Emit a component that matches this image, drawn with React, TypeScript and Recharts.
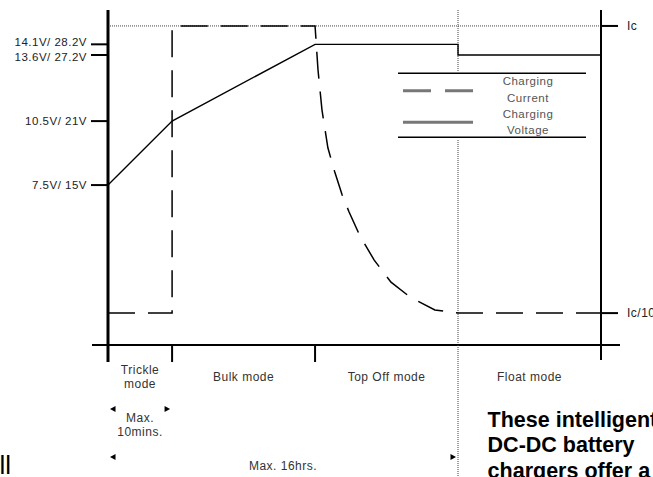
import React from 'react';
import { LineChart, Line, XAxis, YAxis, ReferenceLine, Legend } from 'recharts';

const FONT = '"Liberation Sans", Arial, Helvetica, sans-serif';

// x: schematic time units (0 = start of charge, 100 = right edge of the diagram)
const phaseEdges = [0, 13, 42, 71, 100];
const phaseLabels = [["Trickle", "mode"], ["Bulk mode"], ["Top Off mode"], ["Float mode"]];

// Charging voltage (12V system values)
const voltTime = [0, 13, 42, 71, 71, 100];
const voltValues = [7.5, 10.5, 14.1, 14.1, 13.6, 13.6];

// Charging current as fraction of Ic
const currTime = [0, 13, 13, 42, 42.6, 43.4, 44.6, 46.0, 47.5, 48.9, 51.1, 54.0, 57.4, 61.3, 66.3, 71, 100];
const currValues = [0.1, 0.1, 1, 1, 0.862, 0.737, 0.618, 0.542, 0.47, 0.417, 0.342, 0.266, 0.197, 0.15, 0.11, 0.1, 0.1];

const voltTicks = [7.5, 10.5, 13.6, 14.1];
const voltTickLabels = ["7.5V/ 15V", "10.5V/ 21V", "13.6V/ 27.2V", "14.1V/ 28.2V"];
const currTicks = [0.1, 1];
const currTickLabels = ["Ic/10", "Ic"];

const spanStarts = [0, 0];
const spanEnds = [13, 71];
const spanTexts = [["Max.", "10mins."], ["Max. 16hrs."]];

const seriesNames = ["Charging Current", "Charging Voltage"];
const seriesDash = ["27 13", ""];

const noteLines = ["These intelligent", "DC-DC battery", "chargers offer a"];
const cutText = "ll";

const voltData = voltTime.map((t, i) => ({ t, v: voltValues[i] }));
const currData = currTime.map((t, i) => ({ t, c: currValues[i] }));

const phaseMids = phaseLabels.map((_, i) => (phaseEdges[i] + phaseEdges[i + 1]) / 2);
const spanMids = spanTexts.map((_, i) => (spanStarts[i] + spanEnds[i]) / 2);
const bottomTicks = Array.from(new Set([...phaseEdges, ...phaseMids, ...spanMids])).sort((a, b) => a - b);
const floatEdge = phaseEdges[3];

const eq = (a: number, b: number) => Math.abs(a - b) < 1e-6;

const LABEL = { fontSize: 12, fill: '#333', fontFamily: FONT, letterSpacing: 0.5 };

function arrow(key: string, ax: number, ay: number, dir: number) {
  const pts = dir < 0
    ? `${ax - 3},${ay} ${ax + 2.5},${ay - 3} ${ax + 2.5},${ay + 3}`
    : `${ax + 3},${ay} ${ax - 2.5},${ay - 3} ${ax - 2.5},${ay + 3}`;
  return <polygon key={key} points={pts} fill="#000" />;
}

// left labels: the two close top labels are pushed apart a little so they do not collide
function VoltTick(props: any) {
  const { x, y, payload, index } = props;
  const i = voltTicks.indexOf(payload.value);
  let nudge = 0;
  if (i === voltTicks.length - 1) nudge = -2.2;
  if (i === voltTicks.length - 2) nudge = 2.2;
  return (
    <text x={x} y={y + nudge} dy="0.355em" textAnchor="end" {...LABEL} fontSize={11.5} fill="#222" key={index}>
      {voltTickLabels[i] ?? ''}
    </text>
  );
}

function BottomTick(props: any) {
  const { x, y, payload } = props;
  const v = payload.value;
  const els: any[] = [];
  const txt = { ...LABEL, textAnchor: 'middle' as const };
  const first = phaseEdges[0];
  const last = phaseEdges[phaseEdges.length - 1];
  if (eq(v, first)) {
    els.push(<line key="la" x1={x} x2={x} y1={y} y2={y + 17} stroke="#000" strokeWidth={3} />);
    els.push(<line key="lx" x1={x - 16} x2={x} y1={y} y2={y} stroke="#000" strokeWidth={2} />);
  } else if (eq(v, last)) {
    els.push(<line key="ra" x1={x} x2={x} y1={y} y2={y + 15} stroke="#000" strokeWidth={2} />);
    els.push(<line key="rx" x1={x} x2={x + 19} y1={y} y2={y} stroke="#000" strokeWidth={2} />);
  } else if (phaseEdges.some((e) => eq(e, v))) {
    if (eq(v, floatEdge)) {
      els.push(<line key="dl" x1={x} x2={x} y1={y} y2={y + 132} stroke="#444" strokeWidth={1} strokeDasharray="1 1" />);
    } else {
      els.push(<line key="tk" x1={x} x2={x} y1={y} y2={y + 17} stroke="#000" strokeWidth={2} />);
    }
  }
  phaseMids.forEach((m, i) => {
    if (!eq(m, v)) return;
    const lines = phaseLabels[i];
    const base = 36 - (lines.length - 1) * 7;
    lines.forEach((l, j) => els.push(<text key={`p${i}${j}`} x={x} y={y + base + j * 14} {...txt}>{l}</text>));
  });
  spanTexts.forEach((lines, i) => {
    const row = i === 0 ? 77 : 125;
    if (eq(spanMids[i], v)) {
      lines.forEach((l, j) => els.push(<text key={`s${i}${j}`} x={x} y={y + row + j * 14} {...txt}>{l}</text>));
    }
    if (eq(spanStarts[i], v)) els.push(arrow(`al${i}`, x + 5, y + row - 13, -1));
    if (eq(spanEnds[i], v)) els.push(arrow(`ar${i}`, x - 5, y + row - 13, 1));
  });
  return <g>{els}</g>;
}

function renderLegend(props: any) {
  const items = props.payload ?? [];
  const t = { ...LABEL, fontSize: 11.5, fill: '#555', textAnchor: 'middle' as const };
  return (
    <svg width={188} height={67} style={{ display: 'block', background: '#fff' }}>
      <line x1={0} x2={188} y1={1.3} y2={1.3} stroke="#000" strokeWidth={1.5} />
      <line x1={0} x2={188} y1={65.3} y2={65.3} stroke="#000" strokeWidth={1.5} />
      {items.map((it: any, i: number) => {
        const name = String(it.value);
        const idx = seriesNames.indexOf(name);
        const dash = idx >= 0 ? seriesDash[idx] : '';
        const words = name.split(' ');
        const cy = 18.7 + i * 31.6;
        return (
          <g key={name}>
            <line x1={5} x2={75} y1={cy} y2={cy} stroke="#777" strokeWidth={3} strokeDasharray={dash ? '28 14' : undefined} />
            <text x={130} y={13 + i * 33} {...t}>{words[0]}</text>
            <text x={130} y={29.5 + i * 32} {...t}>{words.slice(1).join(' ')}</text>
          </g>
        );
      })}
    </svg>
  );
}

export default function App() {
  return (
    <div style={{ position: 'absolute', left: 0, top: 0, width: 653, height: 477, background: '#fff', overflow: 'hidden' }}>
      <LineChart width={653} height={477} margin={{ top: 10, right: 0, bottom: 0, left: 0 }}>
        <XAxis
          type="number"
          dataKey="t"
          domain={[0, 100]}
          ticks={bottomTicks}
          interval={0}
          height={132}
          tickLine={false}
          tickSize={0}
          tickMargin={0}
          axisLine={{ stroke: '#000', strokeWidth: 2 }}
          tick={(p: any) => <BottomTick {...p} />}
        />
        <YAxis
          yAxisId="v"
          type="number"
          domain={[0, 15.71]}
          ticks={voltTicks}
          interval={0}
          width={108}
          tickSize={17}
          tickMargin={4}
          axisLine={{ stroke: '#000', strokeWidth: 3 }}
          tickLine={{ stroke: '#000', strokeWidth: 2 }}
          tick={(p: any) => <VoltTick {...p} />}
        />
        <YAxis
          yAxisId="c"
          orientation="right"
          type="number"
          domain={[0, 1.05]}
          ticks={currTicks}
          interval={0}
          width={52}
          tickSize={17}
          tickMargin={9}
          axisLine={{ stroke: '#000', strokeWidth: 2 }}
          tickLine={{ stroke: '#000', strokeWidth: 2 }}
          tick={{ ...LABEL, fill: '#222' }}
          tickFormatter={(val: number) => currTickLabels[currTicks.indexOf(val)] ?? ''}
        />
        <ReferenceLine yAxisId="c" y={currTicks[1]} stroke="#444" strokeWidth={1} strokeDasharray="1 1" />
        <ReferenceLine yAxisId="c" x={floatEdge} stroke="#444" strokeWidth={1} strokeDasharray="1 1" />
        <Line
          yAxisId="c"
          data={currData}
          dataKey="c"
          name={seriesNames[0]}
          type="linear"
          stroke="#000"
          strokeWidth={1.5}
          strokeDasharray={seriesDash[0]}
          dot={false}
          activeDot={false}
          isAnimationActive={false}
        />
        <Line
          yAxisId="v"
          data={voltData}
          dataKey="v"
          name={seriesNames[1]}
          type="linear"
          stroke="#000"
          strokeWidth={1.4}
          dot={false}
          activeDot={false}
          isAnimationActive={false}
        />
        <Legend
          layout="horizontal"
          verticalAlign="middle"
          align="center"
          content={renderLegend}
          wrapperStyle={{ position: 'absolute', left: 398, top: 72, width: 188, height: 67, margin: 0, padding: 0 }}
        />
      </LineChart>
      <svg width={653} height={477} style={{ position: 'absolute', left: 0, top: 0, pointerEvents: 'none' }}>
        {noteLines.map((t, i) => (
          <text key={t} x={487.6} y={426.7 + i * 25.5} fontSize={21.5} fontWeight="bold" fill="#000" fontFamily={FONT}>{t}</text>
        ))}
        <text x={-0.5} y={474} fontSize={26} fill="#000" fontFamily={FONT}>{cutText}</text>
      </svg>
    </div>
  );
}
